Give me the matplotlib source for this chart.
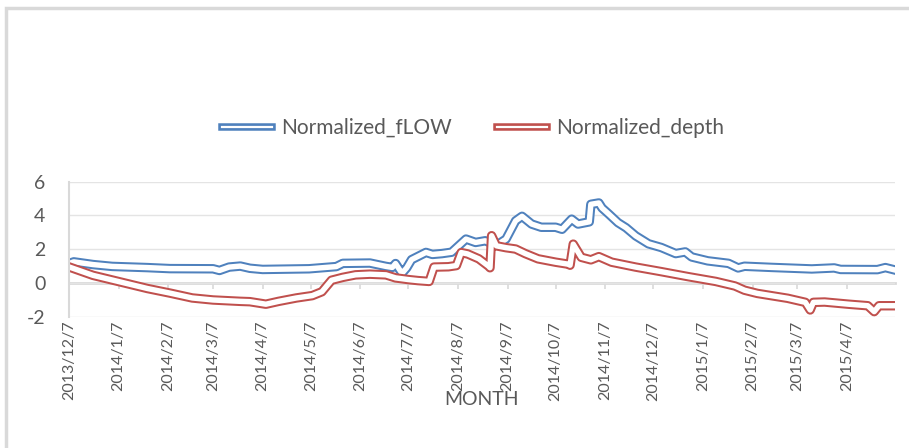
from datetime import datetime

import matplotlib
matplotlib.use('Agg')
import matplotlib.pyplot as plt
import matplotlib.dates as mdates
import matplotlib.patheffects as pe
from matplotlib.lines import Line2D
import pandas as pd

# values
flow_dates = [
    '2013-12-07', '2013-12-10', '2013-12-22', '2014-01-03', '2014-01-25', '2014-02-08',
    '2014-03-07', '2014-03-11', '2014-03-17', '2014-03-24', '2014-03-30', '2014-04-07',
    '2014-05-06', '2014-05-23', '2014-05-27', '2014-06-13', '2014-06-23', '2014-06-27',
    '2014-06-29', '2014-07-03', '2014-07-06', '2014-07-09', '2014-07-18', '2014-07-22',
    '2014-07-28', '2014-08-03', '2014-08-12', '2014-08-18', '2014-08-24', '2014-08-31',
    '2014-09-06', '2014-09-12', '2014-09-16', '2014-09-22', '2014-09-28', '2014-10-07',
    '2014-10-11', '2014-10-17', '2014-10-21', '2014-10-28', '2014-10-29', '2014-11-03',
    '2014-11-05', '2014-11-09', '2014-11-15', '2014-11-20', '2014-11-26', '2014-12-04',
    '2014-12-12', '2014-12-21', '2014-12-27', '2014-12-31', '2015-01-10', '2015-01-23',
    '2015-01-29', '2015-02-02', '2015-02-19', '2015-03-16', '2015-03-30', '2015-04-03',
    '2015-04-26', '2015-05-01', '2015-05-06',
]
flow_values = [
    1.15, 1.25, 1.09, 0.98, 0.91, 0.85,
    0.84, 0.74, 0.94, 1.00, 0.87, 0.80,
    0.84, 0.97, 1.16, 1.18, 0.98, 0.92,
    1.15, 0.57, 0.90, 1.38, 1.81, 1.69,
    1.74, 1.82, 2.60, 2.40, 2.50, 2.23,
    2.60, 3.68, 3.95, 3.49, 3.30, 3.30,
    3.18, 3.78, 3.49, 3.62, 4.66, 4.74,
    4.44, 4.10, 3.57, 3.27, 2.79, 2.32,
    2.10, 1.74, 1.84, 1.54, 1.31, 1.16,
    0.89, 0.99, 0.92, 0.83, 0.89, 0.80,
    0.79, 0.91, 0.79,
]

depth_dates = [
    '2013-12-07', '2013-12-22', '2014-01-08', '2014-01-25', '2014-02-08', '2014-02-22',
    '2014-03-07', '2014-03-24', '2014-03-30', '2014-04-09', '2014-04-17', '2014-04-28',
    '2014-05-08', '2014-05-14', '2014-05-20', '2014-05-27', '2014-06-04', '2014-06-13',
    '2014-06-23', '2014-06-29', '2014-07-07', '2014-07-13', '2014-07-20', '2014-07-23',
    '2014-08-01', '2014-08-06', '2014-08-09', '2014-08-13', '2014-08-20', '2014-08-26',
    '2014-08-27', '2014-08-28', '2014-08-31', '2014-09-06', '2014-09-12', '2014-09-18',
    '2014-09-26', '2014-10-07', '2014-10-15', '2014-10-16', '2014-10-18', '2014-10-23',
    '2014-10-29', '2014-11-03', '2014-11-11', '2014-11-26', '2014-12-12', '2014-12-29',
    '2015-01-15', '2015-01-27', '2015-02-02', '2015-02-10', '2015-03-01', '2015-03-12',
    '2015-03-15', '2015-03-17', '2015-03-24', '2015-04-08', '2015-04-20', '2015-04-24',
    '2015-04-27', '2015-05-06',
]
depth_values = [
    0.95, 0.45, 0.06, -0.33, -0.60, -0.89,
    -1.01, -1.09, -1.11, -1.26, -1.09, -0.89,
    -0.75, -0.52, 0.16, 0.33, 0.48, 0.52,
    0.48, 0.30, 0.20, 0.14, 0.09, 0.94,
    0.96, 1.03, 1.80, 1.72, 1.43, 1.00,
    0.90, 2.80, 2.20, 2.09, 2.01, 1.74,
    1.43, 1.23, 1.11, 1.05, 2.30, 1.52,
    1.37, 1.56, 1.23, 0.94, 0.67, 0.37,
    0.09, -0.18, -0.43, -0.62, -0.91, -1.15,
    -1.60, -1.15, -1.13, -1.26, -1.35, -1.70,
    -1.35, -1.35,
]

tick_labels = [
    '2013/12/7', '2014/1/7', '2014/2/7', '2014/3/7', '2014/4/7', '2014/5/7',
    '2014/6/7', '2014/7/7', '2014/8/7', '2014/9/7', '2014/10/7', '2014/11/7',
    '2014/12/7', '2015/1/7', '2015/2/7', '2015/3/7', '2015/4/7',
]
y_ticks = [-2, 0, 2, 4, 6]
series_names = ['Normalized_fLOW', 'Normalized_depth']

BLUE = '#4f81bd'
RED = '#c0504d'
GREY_TXT = '#595959'
GREY_LINE = '#d9d9d9'

plt.rcParams['font.family'] = ['Lato', 'DejaVu Sans']

fig = plt.figure(figsize=(9.09, 4.48), dpi=100)
ax = fig.add_axes([69 / 909, 1 - 316.7 / 448, 826 / 909, 135 / 448])


def double_effect(color, outer):
    return [pe.Stroke(linewidth=outer, foreground=color), pe.Normal()]


# excel style compound line: coloured outer stroke, white inside
ax.plot(pd.to_datetime(flow_dates), flow_values, color='white', lw=3.9,
        path_effects=double_effect(BLUE, 6.8))
ax.plot(pd.to_datetime(depth_dates), depth_values, color='white', lw=3.9,
        path_effects=double_effect(RED, 6.8))

ax.set_xlim(datetime(2013, 12, 7), datetime(2015, 5, 7))
ax.set_ylim(-2, 6)
ax.set_yticks(y_ticks)
ax.set_yticklabels([str(v) for v in y_ticks])
ax.tick_params(axis='y', length=0, pad=17, labelsize=14, labelcolor=GREY_TXT)

ticks = [datetime.strptime(s, '%Y/%m/%d') for s in tick_labels]
ax.set_xticks(ticks)
ax.set_xticklabels(tick_labels, rotation=90)
ax.tick_params(axis='x', length=0, pad=3, labelsize=11.5, labelcolor=GREY_TXT)

ax.grid(axis='y', color='#e4e4e4', lw=1)
ax.set_axisbelow(True)
for side in ['top', 'right', 'bottom']:
    ax.spines[side].set_visible(False)
ax.spines['left'].set_color(GREY_LINE)
ax.spines['left'].set_linewidth(1.5)

# horizontal axis line crosses at 0, ticks hang below it
zero = ax.secondary_xaxis(0.25)
zero.set_xticks(mdates.date2num(ticks))
zero.set_xticklabels([])
zero.tick_params(axis='x', direction='out', length=4, width=1.2, color=GREY_LINE)
zero.spines['bottom'].set_color(GREY_LINE)
zero.spines['bottom'].set_linewidth(2)

ax.set_xlabel('MONTH', fontsize=14, color=GREY_TXT)
ax.xaxis.set_label_coords(0.5, (316.7 - 391) / 135)

handles = [Line2D([], [], color='white', lw=1.6, path_effects=double_effect(c, 5.4))
           for c in [BLUE, RED]]
fig.legend(handles, series_names, loc='center', bbox_to_anchor=(473 / 909, 1 - 128 / 448),
           ncol=2, frameon=False, fontsize=15, labelcolor=GREY_TXT, handlelength=2.4,
           handletextpad=0.4, columnspacing=2.2)

# chart frame, only top and left edges fall inside the picture
fig.patches.append(plt.Rectangle((6 / 909, -0.1), 1.2, 1.1 - 8 / 448, transform=fig.transFigure,
                                 fill=False, edgecolor=GREY_LINE, lw=2.5))

fig.savefig('out.png', dpi=100)
